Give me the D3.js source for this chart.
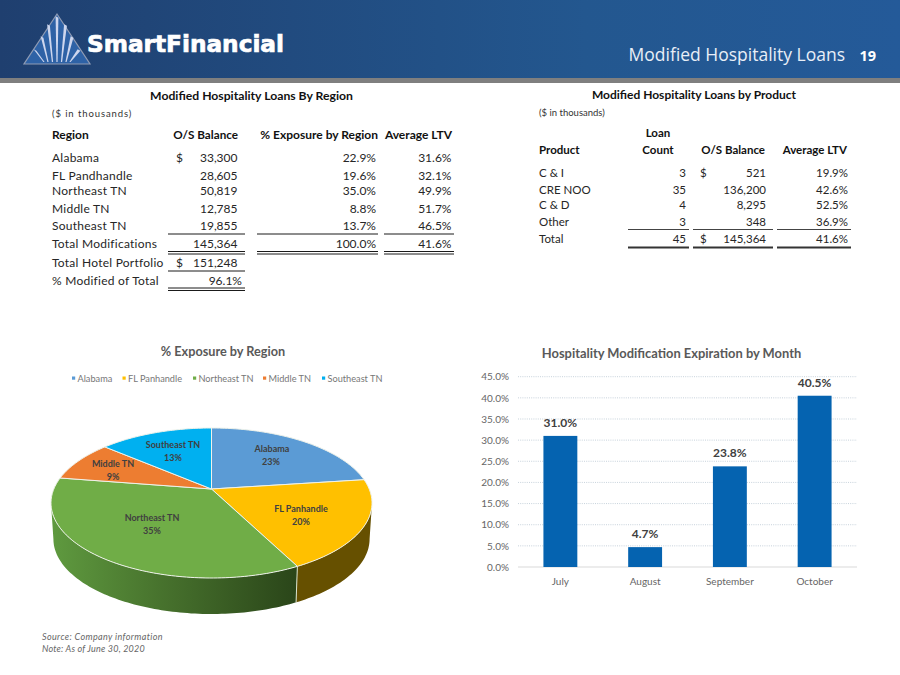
<!DOCTYPE html>
<html><head><meta charset="utf-8">
<script src="https://cdn.jsdelivr.net/npm/d3@7/dist/d3.min.js"></script>
<style>
html,body{margin:0;padding:0;background:#fff}
svg{display:block}
text{font-family:Lato,"Open Sans",sans-serif}
</style></head><body><svg id="c" width="900" height="675"></svg>
<script>
// ---- data ----
const regionHeader = ["Region","O/S Balance","% Exposure by Region","Average LTV"];
const regionNames = ["Alabama","FL Pandhandle","Northeast TN","Middle TN","Southeast TN","Total Modifications","Total Hotel Portfolio","% Modified of Total"];
const regionBalance = ["33,300","28,605","50,819","12,785","19,855","145,364","151,248","96.1%"];
const regionExposure = ["22.9%","19.6%","35.0%","8.8%","13.7%","100.0%","",""];
const regionLtv = ["31.6%","32.1%","49.9%","51.7%","46.5%","41.6%","",""];
const regionDollar = ["$","","","","","","$",""];
const productNames = ["C & I","CRE NOO","C & D","Other","Total"];
const productCount = ["3","35","4","3","45"];
const productBalance = ["521","136,200","8,295","348","145,364"];
const productLtv = ["19.9%","42.6%","52.5%","36.9%","41.6%"];
const productDollar = ["$","","","","$"];
const pieNames = ["Alabama","FL Panhandle","Northeast TN","Middle TN","Southeast TN"];
const pieValues = [22.9,19.6,35.0,8.8,13.7];
const pieLabels = ["23%","20%","35%","9%","13%"];
const months = ["July","August","September","October"];
const monthValues = [31.0,4.7,23.8,40.5];
const yTicks = [0,5,10,15,20,25,30,35,40,45];

// ---- layout ----
const svg = d3.select("#c");
const defs = svg.append("defs");
const hg = defs.append("linearGradient").attr("id","hdr");
hg.append("stop").attr("offset","0").attr("stop-color","#1f3f6f");
hg.append("stop").attr("offset","0.65").attr("stop-color","#23578f");
hg.append("stop").attr("offset","1").attr("stop-color","#245a99");
const gg = defs.append("linearGradient").attr("id","greenWall");
gg.append("stop").attr("offset","0").attr("stop-color","#5f9a3f");
gg.append("stop").attr("offset","0.45").attr("stop-color","#47722d");
gg.append("stop").attr("offset","1").attr("stop-color","#2a4519");

svg.append("rect").attr("width",900).attr("height",78).attr("fill","url(#hdr)");
svg.append("rect").attr("y",78).attr("width",900).attr("height",5).attr("fill","#7f7f7f");

// logo
const logo = svg.append("g");
logo.append("path").attr("d","M57,14L24,64H90Z").attr("fill","#2e62a6").attr("stroke","#8f9bb4").attr("stroke-width",1.2);
[[35,50,44],[42,37,48],[48.5,25,52.5],[57,17,57],[65.5,25,61.5],[72,37,66],[79,50,70]].forEach(r=>{
  const [tx,ty,bx] = r, by = 62;
  logo.append("path").attr("d",`M${tx-1.4},${ty-0.8}L${tx+1.4},${ty+0.8}L${bx+0.6},${by}L${bx-0.6},${by}Z`).attr("fill","#cdd6ee");
});
svg.append("text").attr("x",87).attr("y",51.5).attr("textLength",197).attr("lengthAdjust","spacingAndGlyphs")
  .attr("fill","#fff").attr("stroke","#fff").attr("stroke-width",0.7)
  .style("font-family","'DejaVu Sans'").style("font-weight","bold").style("font-size","23px").text("SmartFinancial");

svg.append("text").attr("x",845).attr("y",61).attr("text-anchor","end").attr("fill","#e8eef7")
  .style("font-family","'Open Sans'").style("font-size","17.5px").text("Modified Hospitality Loans");
svg.append("text").attr("x",876).attr("y",61).attr("text-anchor","end").attr("fill","#fff")
  .style("font-family","'Open Sans'").style("font-weight","bold").style("font-size","14.5px").text("19");

function put(g,x,y,t,o={}){
  return g.append("text").attr("x",x).attr("y",y).attr("text-anchor",o.a||"start")
    .attr("fill",o.c||"#262626").style("font-size",(o.s||12)+"px").style("font-weight",o.b?"bold":"normal")
    .style("font-style",o.i?"italic":"normal").style("letter-spacing",o.ls||null).text(t);
}
function hline(g,x1,x2,y,w=1,c="#1a1a1a"){
  g.append("line").attr("x1",x1).attr("x2",x2).attr("y1",y).attr("y2",y).attr("stroke",c).attr("stroke-width",w);
}

// region table
const t1 = svg.append("g");
put(t1,251.5,100,"Modified Hospitality Loans By Region",{a:"middle",b:1,c:"#111",s:12.2});
put(t1,52,117,"($ in thousands)",{s:9.5,ls:"0.9px",c:"#333"});
put(t1,52,139,regionHeader[0],{b:1,c:"#111"});
put(t1,238,139,regionHeader[1],{a:"end",b:1,c:"#111",s:11.7});
put(t1,378,139,regionHeader[2],{a:"end",b:1,c:"#111"});
put(t1,452,139,regionHeader[3],{a:"end",b:1,c:"#111"});
const r1y = [162,180,195,213,230,248,267,285];
regionNames.forEach((n,i)=>{
  put(t1,52,r1y[i],n,{ls:"0.25px"});
  put(t1,i==7?242:237.5,r1y[i],regionBalance[i],{a:"end"});
  if(regionDollar[i]) put(t1,176,r1y[i],regionDollar[i]);
  if(regionExposure[i]) put(t1,376,r1y[i],regionExposure[i],{a:"end"});
  if(regionLtv[i]) put(t1,451.5,r1y[i],regionLtv[i],{a:"end"});
});
[[168,245],[257,378],[384,454]].forEach(s=>{
  hline(t1,s[0],s[1],234);
  hline(t1,s[0],s[1],251.5); hline(t1,s[0],s[1],254);
});
hline(t1,168,245,271);
hline(t1,168,245,288); hline(t1,168,245,290.5);

// product table
const t2 = svg.append("g");
put(t2,694,99,"Modified Hospitality Loans by Product",{a:"middle",b:1,c:"#111"});
put(t2,539,116,"($ in thousands)",{s:9.5,c:"#333"});
put(t2,658,137,"Loan",{a:"middle",b:1,s:11.5,c:"#111"});
put(t2,539,154,"Product",{b:1,s:11.5,c:"#111"});
put(t2,658,154,"Count",{a:"middle",b:1,s:11.5,c:"#111"});
put(t2,765,154,"O/S Balance",{a:"end",b:1,s:11.5,c:"#111"});
put(t2,847,154,"Average LTV",{a:"end",b:1,s:11.5,c:"#111"});
const r2y = [177,194,209,226,243];
productNames.forEach((n,i)=>{
  put(t2,539,r2y[i],n,{s:11.5});
  put(t2,686,r2y[i],productCount[i],{a:"end",s:11.5});
  if(productDollar[i]) put(t2,700,r2y[i],productDollar[i],{s:11.5});
  put(t2,766,r2y[i],productBalance[i],{a:"end",s:11.5});
  put(t2,848,r2y[i],productLtv[i],{a:"end",s:11.5});
});
[[628,689],[693,773],[777,851]].forEach(s=>{
  hline(t2,s[0],s[1],229.5,1.2,"#444");
  hline(t2,s[0],s[1],247.5,2,"#333");
});

// ---- pie ----
const pieColors = ["#5B9BD5","#FFC000","#70AD47","#ED7D31","#00B0F0"];
const wallColors = [null,"#665000","url(#greenWall)",null,null];
const cx = 211.5, cy = 503, rx = 160.5, ry = 75, apexUp = 14, depth = 36, shrink = 0.985;
const tilt = -apexUp/ry, kk = Math.sqrt(1-tilt*tilt)*rx;
function proj(th,drop){
  const px = Math.sin(th), py = -Math.cos(th), w = 1+tilt*py;
  const X = kk*px/w, Y = (ry*py-apexUp)/w;
  return drop ? [cx+X*shrink, cy+Y+depth] : [cx+X, cy+Y];
}
const arcs = d3.pie().sort(null).value(d=>d)(pieValues);
function sample(a,b,drop){
  const n = Math.max(2,Math.ceil(Math.abs(b-a)/0.02));
  return d3.range(n+1).map(i=>proj(a+(b-a)*i/n,drop));
}
const line = d3.line();
const pieG = svg.append("g");
const wallL = Math.acos(tilt), wallR = 2*Math.PI-wallL;
const walls = arcs.map((a,i)=>({i,a0:Math.max(a.startAngle,wallL),a1:Math.min(a.endAngle,wallR)})).filter(d=>d.a1>d.a0);
pieG.selectAll("path.wall").data(walls).join("path").attr("class","wall")
  .attr("d",d=>line(sample(d.a0,d.a1,false).concat(sample(d.a1,d.a0,true)))+"Z")
  .attr("fill",d=>wallColors[d.i]);
pieG.selectAll("line.seam").data(walls.slice(1)).join("line").attr("class","seam")
  .attr("x1",d=>proj(d.a0,false)[0]).attr("y1",d=>proj(d.a0,false)[1])
  .attr("x2",d=>proj(d.a0,true)[0]).attr("y2",d=>proj(d.a0,true)[1])
  .attr("stroke","#d8e2cc").attr("stroke-width",1);
const apex = [cx, cy-apexUp];
pieG.selectAll("path.slice").data(arcs).join("path").attr("class","slice")
  .attr("d",d=>line([apex].concat(sample(d.startAngle,d.endAngle,false)))+"Z")
  .attr("fill",(d,i)=>pieColors[i]).attr("stroke","#eef2ea").attr("stroke-width",1).attr("stroke-linejoin","round");
// pie labels
const labelPos = [[272,449,271,462],[301,509,301,522],[152,518,152,531],[113,464,113,477],[173,445,173,458]];
pieNames.forEach((n,i)=>{
  const p = labelPos[i];
  put(pieG,p[0],p[1]+3,n,{a:"middle",b:1,s:9,c:"#404040"});
  put(pieG,p[2],p[3]+3,pieLabels[i],{a:"middle",b:1,s:9,c:"#404040"});
});
put(pieG,223,355.5,"% Exposure by Region",{a:"middle",b:1,s:12.7,c:"#595959"});
const legX = [72,122.5,193,263,322];
pieNames.forEach((n,i)=>{
  pieG.append("rect").attr("x",legX[i]).attr("y",376.5).attr("width",3.2).attr("height",3.2).attr("fill",pieColors[i]);
  put(pieG,legX[i]+5.5,381.5,n,{s:9.2,c:"#777"});
});

// ---- bars ----
const barG = svg.append("g");
const x = d3.scaleBand().domain(months).range([518,857]).paddingInner(0.6).paddingOuter(0.3);
const y = d3.scaleLinear().domain([0,45]).range([567,376.7]);
barG.append("g").selectAll("line").data(yTicks.slice(1)).join("line")
  .attr("x1",518).attr("x2",857).attr("y1",d=>y(d)).attr("y2",d=>y(d))
  .attr("stroke","#b9c6d2").attr("stroke-width",0.8).attr("stroke-dasharray","1 1.2");
barG.append("line").attr("x1",518).attr("x2",857).attr("y1",y(0)).attr("y2",y(0)).attr("stroke","#d9d9d9");
const yAx = barG.append("g").attr("transform","translate(509,0)")
  .call(d3.axisLeft(y).tickValues(yTicks).tickFormat(d=>d.toFixed(1)+"%").tickSize(0).tickPadding(0));
yAx.select(".domain").remove();
yAx.selectAll("text").attr("fill","#666").style("font-size","10px").style("font-family","Lato");
const xAx = barG.append("g").attr("transform","translate(0,567)")
  .call(d3.axisBottom(x).tickSize(0).tickPadding(11));
xAx.select(".domain").remove();
xAx.selectAll("text").attr("fill","#666").style("font-size","10px").style("font-family","Lato");
barG.selectAll("rect.bar").data(monthValues).join("rect").attr("class","bar")
  .attr("x",(d,i)=>x(months[i])).attr("width",x.bandwidth())
  .attr("y",d=>y(d)).attr("height",d=>y(0)-y(d)).attr("fill","#0563B0");
barG.selectAll("text.val").data(monthValues).join("text").attr("class","val")
  .attr("x",(d,i)=>x(months[i])+x.bandwidth()/2).attr("y",d=>y(d)-9).attr("text-anchor","middle")
  .attr("fill","#404040").style("font-size","12px").style("font-weight","bold").text(d=>d.toFixed(1)+"%");
put(barG,671.5,358,"Hospitality Modification Expiration by Month",{a:"middle",b:1,s:12.9,c:"#595959"});

// footer
put(svg,42,640,"Source: Company information",{s:9,i:1,c:"#666",ls:"0.38px"});
put(svg,42,652,"Note: As of June 30, 2020",{s:9,i:1,c:"#666",ls:"0.2px"});
</script></body></html>
